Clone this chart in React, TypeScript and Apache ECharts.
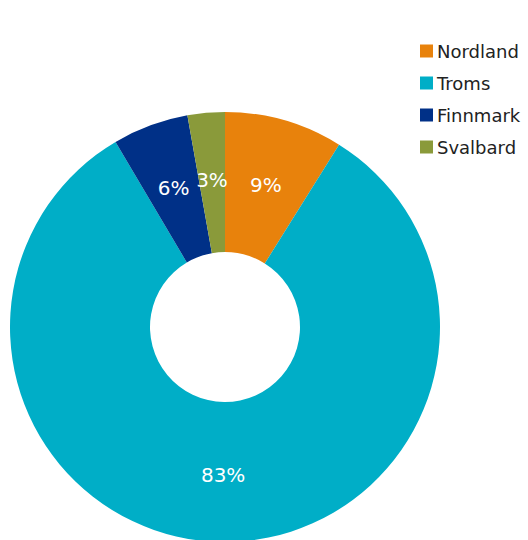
import React, { useEffect, useRef } from "react";
import * as echarts from "echarts";

const categories = ["Nordland", "Troms", "Finnmark", "Svalbard"];
const values = [8.9, 82.6, 5.7, 2.8];
const colors = ["#E8820C", "#00AEC7", "#003087", "#8A9A3A"];

export default function App() {
  const ref = useRef<HTMLDivElement>(null);
  useEffect(() => {
    if (!ref.current) return;
    const chart = echarts.init(ref.current, undefined, { renderer: "svg" });
    chart.setOption({
      animation: false,
      color: colors,
      legend: {
        orient: "vertical",
        left: 420,
        top: 42,
        padding: 0,
        itemWidth: 13,
        itemHeight: 13,
        itemGap: 14,
        icon: "rect",
        textStyle: { fontFamily: "DejaVu Sans", fontSize: 18, color: "#222", padding: [0, 0, 0, -1] },
        data: categories,
      },
      series: [
        {
          type: "pie",
          center: [225, 327],
          radius: [75, 215],
          startAngle: 90,
          clockwise: true,
          avoidLabelOverlap: false,
          label: {
            show: true,
            position: "inside",
            color: "#fff",
            fontFamily: "DejaVu Sans",
            fontSize: 20,
            formatter: (p: any) => Math.round(p.value) + "%",
          },
          labelLine: { show: false },
          emphasis: { disabled: true },
          data: categories.map((c, i) => ({ name: c, value: values[i] })),
        },
      ],
    });
    return () => chart.dispose();
  }, []);
  return <div ref={ref} style={{ width: 528, height: 540, position: "absolute", left: 0, top: 0 }} />;
}
